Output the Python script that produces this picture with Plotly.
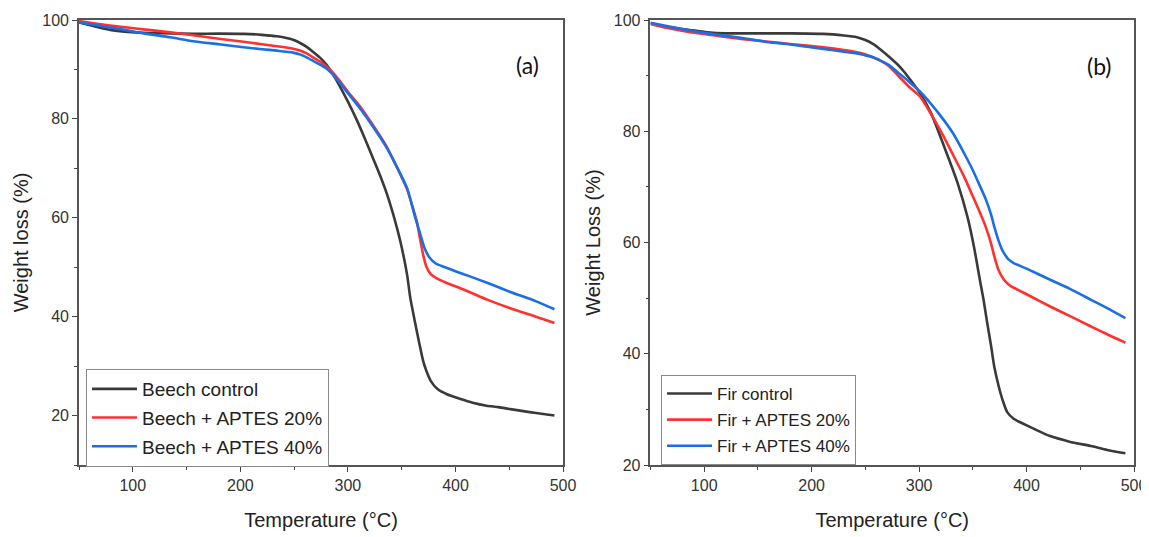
import plotly.graph_objects as go
from plotly.subplots import make_subplots

# ---------------- Panel (a): Beech ----------------
temp_a_ctrl = [50, 65, 79, 95, 110, 135, 156, 180, 203, 220, 234, 249, 256, 262, 268, 274, 280, 285, 292, 300,
               308, 316, 324, 330, 336, 342, 349, 355, 358, 362, 366, 370, 373, 377, 383, 392, 404, 416, 429,
               440, 451, 463, 475, 485, 492]
beech_ctrl = [99.5, 98.7, 98.0, 97.6, 97.4, 97.3, 97.2, 97.25, 97.2, 97.0, 96.7, 96.0, 95.3, 94.5, 93.5, 92.4,
              91.0, 89.4, 86.8, 83.5, 79.9, 75.9, 71.7, 68.5, 65.0, 60.8, 55.0, 48.5, 43.8, 39.3, 35.0, 31.0,
              29.0, 27.0, 25.4, 24.3, 23.4, 22.6, 22.0, 21.7, 21.3, 20.9, 20.5, 20.2, 20.0]

temp_a_20 = [50, 65, 79, 95, 110, 135, 156, 180, 203, 220, 234, 249, 256, 262, 268, 274, 280, 285, 292, 300,
             311, 324, 336, 345, 355, 360, 364, 366, 370, 373, 377, 383, 392, 404, 414, 430, 451, 475, 492]
beech_20 = [99.8, 99.3, 98.9, 98.5, 98.1, 97.5, 96.9, 96.2, 95.6, 95.1, 94.7, 94.2, 93.8, 93.2, 92.4, 91.6,
            90.6, 89.6, 87.8, 85.5, 82.6, 78.5, 74.4, 70.5, 65.8, 62.3, 59.3, 57.0, 52.5, 50.1, 48.6, 47.7,
            46.8, 45.8, 44.9, 43.4, 41.7, 40.0, 38.7]

temp_a_40 = [50, 65, 79, 95, 110, 135, 156, 180, 203, 220, 234, 249, 256, 262, 268, 274, 280, 285, 292, 300,
             311, 324, 336, 345, 355, 358, 362, 367, 371, 376, 382, 389, 400, 414, 430, 451, 475, 492]
beech_40 = [99.5, 99.0, 98.5, 97.9, 97.3, 96.5, 95.7, 95.1, 94.5, 94.1, 93.8, 93.4, 93.0, 92.4, 91.7, 91.0,
            90.2, 89.2, 87.4, 85.2, 82.2, 78.2, 74.2, 70.5, 66.0, 63.8, 60.5, 56.9, 54.0, 51.9, 50.7, 50.1,
            49.2, 48.1, 46.8, 45.0, 43.1, 41.5]

# ---------------- Panel (b): Fir ----------------
temp_b_ctrl = [50, 65, 87, 103, 120, 134, 160, 180, 211, 230, 242, 250, 257, 264, 272, 280, 286, 292, 300, 311,
               323, 336, 345, 351, 357, 360, 363, 367, 370, 374, 378, 382, 388, 395, 408, 422, 440, 460, 475, 492]
fir_ctrl = [99.4, 98.8, 98.2, 97.8, 97.6, 97.6, 97.6, 97.6, 97.5, 97.2, 96.9, 96.4, 95.7, 94.7, 93.4, 92.0,
            90.7, 89.2, 87.1, 83.3, 77.4, 70.6, 64.6, 59.3, 52.8, 49.7, 46.0, 41.4, 37.6, 34.2, 31.5, 29.5,
            28.3, 27.6, 26.4, 25.2, 24.2, 23.4, 22.7, 22.1]

temp_b_20 = [50, 65, 87, 103, 134, 160, 180, 211, 230, 242, 249, 257, 264, 272, 280, 290, 301, 312, 323, 332,
             342, 350, 357, 362, 367, 370, 374, 379, 385, 392, 405, 422, 440, 460, 475, 492]
fir_20 = [99.3, 98.6, 97.8, 97.4, 96.6, 96.1, 95.7, 95.1, 94.6, 94.2, 93.9, 93.3, 92.7, 91.7, 90.1, 88.1,
          86.2, 82.8, 79.0, 75.6, 71.8, 68.3, 65.2, 62.8, 59.8, 57.5, 55.0, 53.3, 52.2, 51.5, 50.2, 48.5,
          46.8, 44.9, 43.5, 42.0]

temp_b_40 = [50, 65, 87, 103, 134, 160, 180, 211, 230, 242, 249, 257, 264, 272, 280, 290, 301, 312, 323, 332,
             342, 350, 357, 362, 367, 370, 374, 377, 379, 383, 388, 400, 422, 440, 460, 475, 492]
fir_40 = [99.5, 98.9, 98.1, 97.6, 96.8, 96.0, 95.6, 94.8, 94.3, 94.0, 93.7, 93.3, 92.7, 91.9, 90.6, 89.0,
          87.1, 84.7, 82.0, 79.5, 76.0, 73.0, 70.0, 67.8, 65.0, 62.8, 60.3, 58.8, 58.1, 57.0, 56.3, 55.3,
          53.3, 51.7, 49.7, 48.2, 46.4]

x_ticks = [100, 200, 300, 400, 500]
y_ticks_a = [20, 40, 60, 80, 100]
y_ticks_b = [20, 40, 60, 80, 100]

BLACK = "#3a3a3a"
RED = "#ff3030"
BLUE = "#1a6fe6"
FONT = "Liberation Sans, Arial, sans-serif"

fig = make_subplots(rows=1, cols=2, horizontal_spacing=0.08)

series_a = [
    (temp_a_ctrl, beech_ctrl, "Beech control", BLACK),
    (temp_a_20, beech_20, "Beech + APTES 20%", RED),
    (temp_a_40, beech_40, "Beech + APTES 40%", BLUE),
]
series_b = [
    (temp_b_ctrl, fir_ctrl, "Fir control", BLACK),
    (temp_b_20, fir_20, "Fir + APTES 20%", RED),
    (temp_b_40, fir_40, "Fir + APTES 40%", BLUE),
]
for i, (x, y, name, c) in enumerate(series_a):
    fig.add_trace(go.Scatter(x=x, y=y, name=name, mode="lines",
                             line=dict(color=c, width=2.6, shape="spline", smoothing=0.6),
                             legend="legend", legendgroup=f"a{i}"), row=1, col=1)
for i, (x, y, name, c) in enumerate(series_b):
    fig.add_trace(go.Scatter(x=x, y=y, name=name, mode="lines",
                             line=dict(color=c, width=2.6, shape="spline", smoothing=0.6),
                             legend="legend2", legendgroup=f"b{i}"), row=1, col=2)

axis_common = dict(showline=True, linecolor="#555555", linewidth=1.6, mirror=True,
                   ticks="outside", ticklen=5, tickwidth=1.4, tickcolor="#444444",
                   showgrid=False, zeroline=False, automargin=False,
                   tickfont=dict(family=FONT, size=16, color="#333333"))

fig.update_xaxes(**axis_common, range=[50, 500], tickvals=x_ticks,
                 minor=dict(ticks="outside", ticklen=3, tickwidth=1.2, tickcolor="#444444", dtick=50, showgrid=False),
                 title=dict(text="Temperature (°C)", font=dict(family=FONT, size=20, color="#222222"), standoff=20))
fig.update_xaxes(domain=[0.0, 0.4588], row=1, col=1)
fig.update_xaxes(domain=[0.5417, 1.0], row=1, col=2)

fig.update_yaxes(**axis_common, minor=dict(ticks="outside", ticklen=3, tickwidth=1.2, tickcolor="#444444",
                                           dtick=10, showgrid=False))
fig.update_yaxes(range=[10, 100], tickvals=y_ticks_a, row=1, col=1,
                 title=dict(text="Weight loss (%)", font=dict(family=FONT, size=20, color="#222222"), standoff=8))
fig.update_yaxes(range=[20, 100], tickvals=y_ticks_b, row=1, col=2,
                 title=dict(text="Weight Loss (%)", font=dict(family=FONT, size=20, color="#222222"), standoff=8))

fig.add_annotation(x=467, y=91.0, xref="x", yref="y", text="(a)", showarrow=False,
                   font=dict(family="Lato, Open Sans, sans-serif", size=23, color="#111111"))
fig.add_annotation(x=468, y=91.8, xref="x2", yref="y2", text="(b)", showarrow=False,
                   font=dict(family="Lato, Open Sans, sans-serif", size=23, color="#111111"))

legend_common = dict(xanchor="left", yanchor="top", bgcolor="rgba(255,255,255,1)",
                     bordercolor="#8a8a8a", borderwidth=1, itemwidth=45,
                     traceorder="grouped", tracegroupgap=1)
# page body has an 8px default margin, so the figure is sized to fill the rest of the window
fig.update_layout(
    width=1141, height=529,
    margin=dict(l=71, r=15, t=12, b=72, autoexpand=False),
    paper_bgcolor="white", plot_bgcolor="white",
    legend=dict(**legend_common, x=0.0066, y=0.2157,
                font=dict(family=FONT, size=19, color="#222222")),
    legend2=dict(**legend_common, x=0.5517, y=0.2022,
                 font=dict(family=FONT, size=17, color="#222222")),
)

fig.write_html("out.html")
